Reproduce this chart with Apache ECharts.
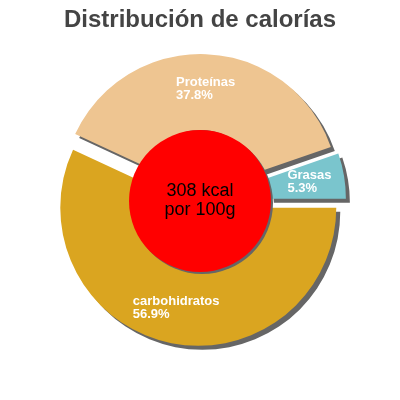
<!DOCTYPE html>
<html>
<head>
    <meta charset="utf-8">
    <title>Distribución de calorías</title>
    <script src="https://cdn.jsdelivr.net/npm/echarts@6/dist/echarts.min.js"></script>
    <style>
        html, body { margin: 0; padding: 0; background: #fff; }
    </style>
</head>
<body>
    <div id="main" style="width: 400px;height:400px;"></div>
    <script type="text/javascript">
        // datos del gráfico
        var nombres = ['carbohidratos', 'Proteínas', 'Grasas'];
        var porcentajes = [56.9, 37.8, 5.3];
        var colores = ['#DAA520', '#EEC591', '#7AC5CD'];
        var centroTexto = ['308 kcal', 'por 100g'];

        var myChart = echarts.init(document.getElementById('main'));

        var datos = nombres.map(function (n, i) {
            return {
                name: n,
                value: porcentajes[i],
                selected: true,
                itemStyle: { color: colores[i] }
            };
        });

        var option = {
            animation: false,
            title: {
                text: 'Distribución de calorías',
                left: 'center',
                top: 3,
                textStyle: {
                    fontFamily: 'Liberation Sans',
                    fontSize: 24,
                    fontWeight: 'bold',
                    color: '#444444'
                }
            },
            series: [{
                type: 'pie',
                center: [200, 200],
                radius: [62, 138],
                startAngle: 0,
                clockwise: true,
                selectedMode: 'multiple',
                selectedOffset: 8,
                silent: true,
                itemStyle: {
                    shadowColor: '#666666',
                    shadowBlur: 0,
                    shadowOffsetX: 4,
                    shadowOffsetY: 4
                },
                label: {
                    show: true,
                    position: 'inside',
                    formatter: function (p) {
                        return '{a|' + p.name + '}\n{a|' + p.value + '%}';
                    },
                    rich: {
                        a: {
                            fontFamily: 'Liberation Sans',
                            fontSize: 13,
                            fontWeight: 'bold',
                            color: '#ffffff',
                            align: 'left',
                            lineHeight: 13
                        }
                    }
                },
                labelLine: { show: false },
                emphasis: { disabled: true },
                data: datos
            }, {
                type: 'pie',
                center: [200, 201],
                radius: [0, 71],
                silent: true,
                itemStyle: {
                    color: '#ff0000',
                    shadowColor: '#666666',
                    shadowBlur: 0,
                    shadowOffsetX: 2,
                    shadowOffsetY: 2
                },
                label: {
                    show: true,
                    position: 'center',
                    formatter: centroTexto.join('\n'),
                    fontFamily: 'Liberation Sans',
                    fontSize: 18,
                    lineHeight: 19,
                    color: '#000000'
                },
                labelLine: { show: false },
                emphasis: { disabled: true },
                data: [{ name: 'total', value: 1 }]
            }]
        };

        myChart.setOption(option);
    </script>
</body>
</html>
